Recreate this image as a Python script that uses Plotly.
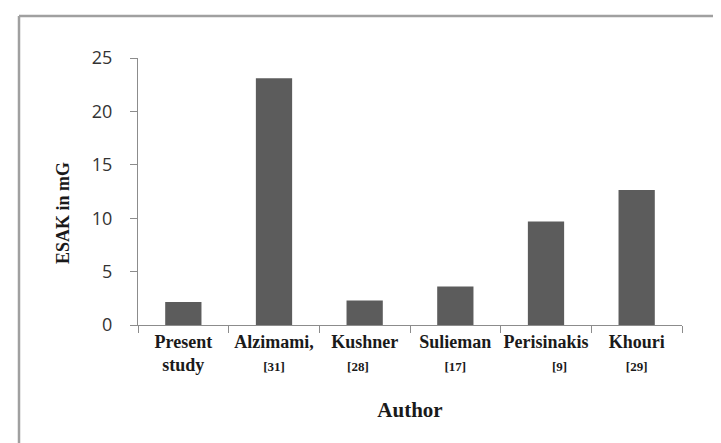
import plotly.graph_objects as go

categories = ["Present study", "Alzimami, [31]", "Kushner [28]", "Sulieman [17]", "Perisinakis [9]", "Khouri [29]"]
esak_values = [2.15, 23.1, 2.3, 3.6, 9.7, 12.65]
tick_labels = [
    "<b>Present</b><br><b>study</b>",
    "<b>Alzimami,</b><br><span style='font-size:13px'><b>[31]</b></span>",
    "<b>Kushner</b><br><span style='font-size:13px'><b>[28]</b></span>&nbsp;&nbsp;&nbsp;",
    "<b>Sulieman</b><br><span style='font-size:13px'><b>[17]</b></span>",
    "<b>Perisinakis</b><br>&nbsp;&nbsp;&nbsp;&nbsp;&nbsp;&nbsp;<span style='font-size:13px'><b>[9]</b></span>",
    "<b>Khouri</b><br><span style='font-size:13px'><b>[29]</b></span>",
]
y_ticks = [0, 5, 10, 15, 20, 25]

W, H = 721, 443
L, R, T, B = 130, 47, 50, 126
pw, ph = W - L - R, H - T - B

fig = go.Figure(go.Bar(x=categories, y=esak_values, marker=dict(color="#5c5c5c", line=dict(width=0)), width=0.4))

def px_x(x):
    return (x - L) / pw

def px_y(y):
    return 1 + (T - y) / ph

frame = "#a0a0a0"
fig.add_shape(type="line", xref="paper", yref="paper", x0=px_x(11), x1=px_x(11), y0=px_y(8), y1=px_y(460),
              line=dict(color=frame, width=2.5))
fig.add_shape(type="line", xref="paper", yref="paper", x0=px_x(11), x1=px_x(740), y0=px_y(8), y1=px_y(8),
              line=dict(color=frame, width=2.5))

fig.add_annotation(text="<b>ESAK in mG</b>", xref="paper", yref="paper", x=px_x(43), y=px_y(205),
                   textangle=-90, showarrow=False, font=dict(family="Liberation Serif", size=18, color="#1a1a1a"))

fig.update_layout(
    width=W, height=H,
    margin=dict(l=L, r=R, t=T, b=B),
    paper_bgcolor="white", plot_bgcolor="white",
    showlegend=False,
    xaxis=dict(
        tickmode="array", tickvals=categories, ticktext=tick_labels,
        tickson="boundaries", ticks="outside", ticklen=7, tickcolor="#8c8c8c",
        showline=True, linecolor="#8c8c8c", linewidth=1, showgrid=False,
        tickfont=dict(family="Liberation Serif", size=18, color="#1a1a1a"),
        title=dict(text="<b>Author</b>", font=dict(family="Liberation Serif", size=21, color="#1a1a1a"), standoff=28),
        tickangle=0,
    ),
    yaxis=dict(
        range=[0, 25], tickvals=y_ticks, ticks="outside", ticklen=7, tickcolor="#8c8c8c",
        showline=True, linecolor="#8c8c8c", linewidth=1, showgrid=False, zeroline=False,
        tickfont=dict(family="Open Sans", size=18, color="#333333"),
        ticklabelstandoff=14,
    ),
)

fig.write_html("out.html")
